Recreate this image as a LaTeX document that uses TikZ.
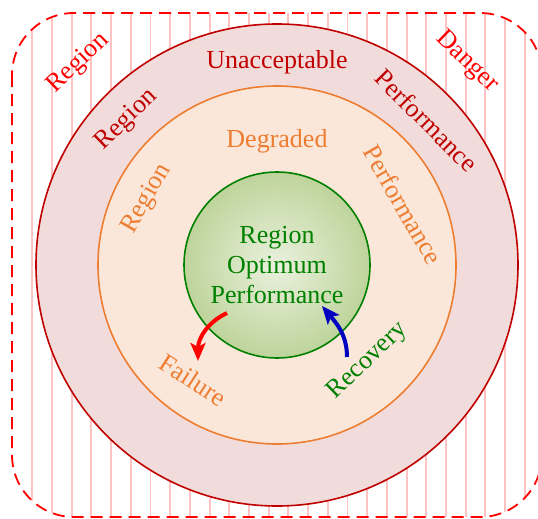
\documentclass[tikz,border=0pt]{standalone}
\usepackage{fontspec}
\setmainfont{Liberation Serif}
\usetikzlibrary{calc, arrows.meta}
\tikzset{>=latex}
\definecolor{dangerred}{RGB}{255, 0, 0}
\definecolor{hatchpink}{RGB}{255, 195, 195}
\definecolor{unaccred}{RGB}{192, 0, 0}
\definecolor{unaccfill}{RGB}{242, 220, 219}
\definecolor{degorange}{RGB}{237, 125, 49}
\definecolor{degfill}{RGB}{251, 231, 217}
\definecolor{optgreen}{RGB}{0, 128, 0}
\definecolor{optinner}{RGB}{234, 241, 222}
\definecolor{optouter}{RGB}{190, 212, 155}
\definecolor{recblue}{RGB}{0, 0, 192}
\tikzset{
  zone/.style = {circle, inner sep=0pt, line width=1.6pt},
  lbl/.style = {font=\fontsize{26}{30}\selectfont, inner sep=0pt},
  flow/.style = {line width=4pt, -{Stealth[length=18pt, width=15pt, inset=4pt]}}
}

\begin{document}
\begin{tikzpicture}[x=1pt, y=1pt]
\useasboundingbox (0,0) rectangle (538,-519);
\coordinate (centre) at (277,-265);
% danger region
\begin{scope}
\clip[rounded corners=62pt] (12,-13) rectangle (542,-517);
\foreach \x in {0,...,26}
  \draw[hatchpink, line width=1.9pt] (32.3+19.7*\x, 0) -- (32.3+19.7*\x, -519);
\end{scope}
\draw[dangerred, line width=1.8pt, dash pattern=on 12pt off 7pt, rounded corners=62pt] (12,-13) rectangle (542,-517);
% the three zones
\node[zone, draw=unaccred, fill=unaccfill, minimum size=482pt] (unacc) at (centre) {};
\node[zone, draw=degorange, fill=degfill, minimum size=358pt] (degr) at (centre) {};
\node[zone, lbl, draw=optgreen, inner color=optinner, outer color=optouter, minimum size=186pt, text=optgreen, align=center] (opt) at (centre) {Region\\Optimum\\Performance};
% labels
\node[lbl, text=dangerred, rotate=44] (dangerA) at ($(centre)+(134.6:283)$) {Region};
\node[lbl, text=dangerred, rotate=-44] (dangerB) at ($(centre)+(46.9:278)$) {Danger};
\node[lbl, text=unaccred, rotate=44] (unaccA) at ($(centre)+(136:209)$) {Region};
\node[lbl, text=unaccred] (unaccB) at ($(centre)+(90:203)$) {Unacceptable};
\node[lbl, text=unaccred, rotate=-45] (unaccC) at ($(centre)+(44:208)$) {Performance};
\node[lbl, text=degorange, rotate=60] (degA) at ($(centre)+(153:146)$) {Region};
\node[lbl, text=degorange] (degB) at ($(centre)+(90:124)$) {Degraded};
\node[lbl, text=degorange, rotate=-60] (degC) at ($(centre)+(25.5:140)$) {Performance};
\node[lbl, text=degorange, rotate=-33] (fail) at ($(centre)+(234:142)$) {Failure};
\node[lbl, text=optgreen, rotate=44] (recov) at ($(centre)+(-46.5:132)$) {Recovery};
% transitions
\coordinate (failfrom) at (227,-313);
\coordinate (failto) at (198,-361);
\draw[flow, dangerred] (failfrom) to[out=205, in=90] (failto);
\coordinate (recfrom) at (347,-357);
\coordinate (recto) at (322,-306);
\draw[flow, recblue] (recfrom) to[out=90, in=-50] (recto);
\end{tikzpicture}
\end{document}
